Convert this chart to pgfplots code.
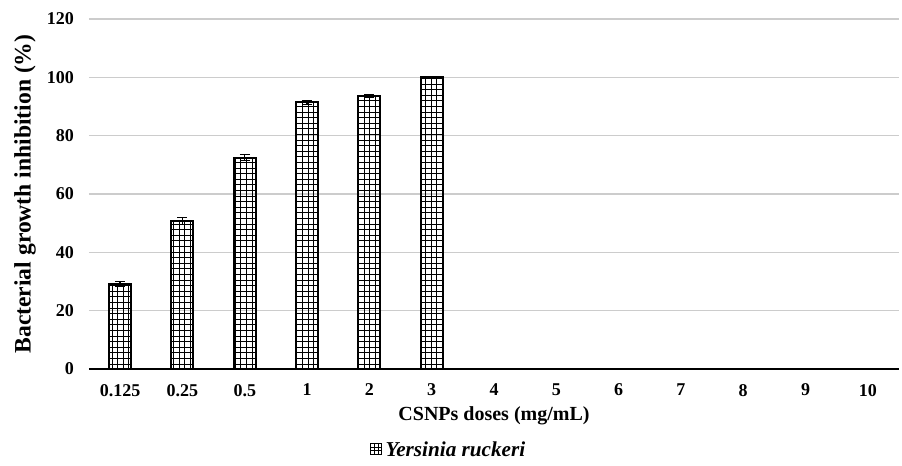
\documentclass[border=0pt]{standalone}
\usepackage{pgfplots}
\pgfplotsset{compat=1.18}
\usepackage{fontspec}
\setmainfont{Liberation Serif}
\usetikzlibrary{patterns}
\pgfdeclarepatternformonly{mygrid}{\pgfqpoint{-0.5pt}{-0.5pt}}{\pgfqpoint{3.3pt}{3.3pt}}{\pgfqpoint{2.8pt}{2.8pt}}{%
  \pgfsetlinewidth{0.5pt}%
  \pgfpathmoveto{\pgfqpoint{0pt}{0pt}}\pgfpathlineto{\pgfqpoint{2.8pt}{0pt}}%
  \pgfpathmoveto{\pgfqpoint{0pt}{0pt}}\pgfpathlineto{\pgfqpoint{0pt}{2.8pt}}%
  \pgfusepath{stroke}}
\pgfdeclarepatternformonly{smallgrid}{\pgfqpoint{-0.5pt}{-0.5pt}}{\pgfqpoint{2.3pt}{2.3pt}}{\pgfqpoint{1.8pt}{1.8pt}}{%
  \pgfsetlinewidth{0.4pt}%
  \pgfpathmoveto{\pgfqpoint{0pt}{0pt}}\pgfpathlineto{\pgfqpoint{1.8pt}{0pt}}%
  \pgfpathmoveto{\pgfqpoint{0pt}{0pt}}\pgfpathlineto{\pgfqpoint{0pt}{1.8pt}}%
  \pgfusepath{stroke}}
\begin{document}
\begin{tikzpicture}
\begin{axis}[
  name=ax,
  scale only axis,
  width=405pt, height=175pt,
  xmin=-0.5, xmax=12.5,
  ymin=0, ymax=120,
  xtick={0,...,12},
  xticklabels={0.125,0.25,0.5,1,2,3,4,5,6,7,8,9,10},
  ytick={20,40,...,120},
  extra y ticks={0},
  extra y tick style={grid style={black, line width=0.7pt}},
  ymajorgrids,
  grid style={gray!40, line width=0.6pt},
  axis line style={draw=none},
  major tick length=0pt,
  /pgf/number format/assume math mode=true,
  tick label style={font=\fontsize{9}{10}\selectfont\bfseries},
  xticklabel style={yshift=-4pt},
  yticklabel style={xshift=-4pt},
  xlabel={CSNPs doses (mg/mL)},
  ylabel={Bacterial growth inhibition (\%)},
  xlabel style={font=\fontsize{10}{12}\selectfont\bfseries, at={(axis description cs:0.5,-0.134)}, anchor=center},
  ylabel style={font=\fontsize{11.8}{14}\selectfont\bfseries, at={(axis description cs:-0.079,0.5)}, anchor=center},
  legend style={draw=none, at={(0.445,-0.234)}, anchor=center, inner sep=0pt, font=\fontsize{10.6}{12}\selectfont\bfseries\itshape},
  legend image code/.code={\draw[pattern=smallgrid, draw=black, line width=0.5pt] (1pt,-2pt) rectangle (6.5pt,3.5pt);},
]
\addplot[ybar, bar width=11pt, draw=black, line width=1pt, pattern=mygrid,
  error bars/.cd, y dir=both, y explicit, error bar style={line width=0.7pt, black}, error mark options={rotate=90, mark size=2.5pt, line width=0.7pt}]
  coordinates {
  (0,29.2) +- (0,0.7)
  (1,50.8) +- (0,1.2)
  (2,72.5) +- (0,1.0)
  (3,91.4) +- (0,0.7)
  (4,93.6) +- (0,0.5)
  (5,100) +- (0,0)
  };
\addlegendentry{Yersinia ruckeri}
\end{axis}
\path (ax.south west) ++(-44.5pt,-48pt);
\path (ax.north east) ++(1.5pt,9.5pt);
\end{tikzpicture}
\end{document}
